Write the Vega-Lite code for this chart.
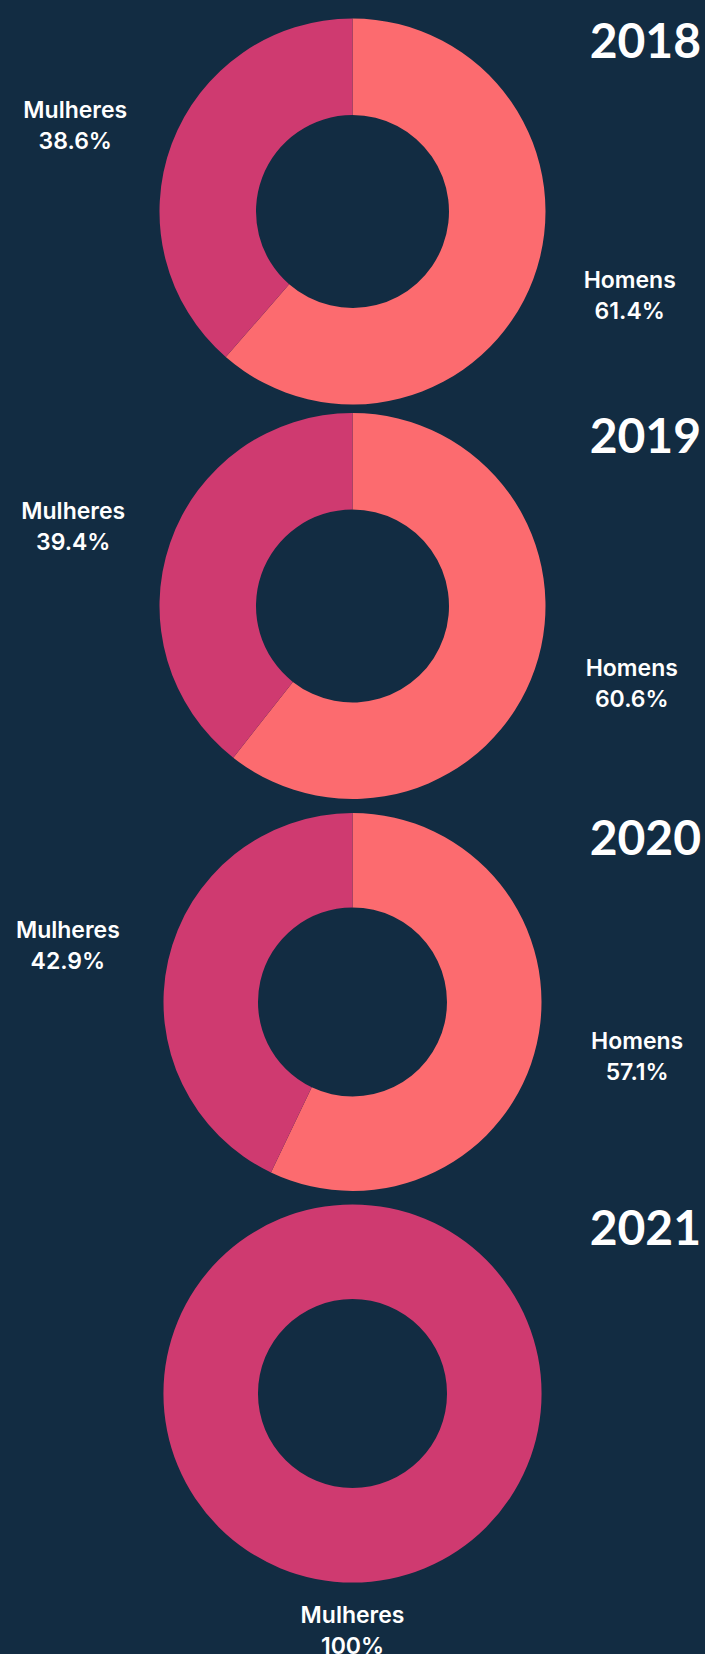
{
  "$schema": "https://vega.github.io/schema/vega-lite/v6.json",
  "background": "#122c42",
  "padding": {"top": 14, "left": 0, "right": 0, "bottom": 0},
  "config": {"view": {"stroke": null}, "concat": {"spacing": 0}, "font": "Lato"},
  "spacing": 0,
  "bounds": "flush",
  "data": {"values": [
    {"ano": 2018, "genero": "Homens", "pct": 0.614},
    {"ano": 2018, "genero": "Mulheres", "pct": 0.386},
    {"ano": 2019, "genero": "Homens", "pct": 0.606},
    {"ano": 2019, "genero": "Mulheres", "pct": 0.394},
    {"ano": 2020, "genero": "Homens", "pct": 0.571},
    {"ano": 2020, "genero": "Mulheres", "pct": 0.429},
    {"ano": 2021, "genero": "Mulheres", "pct": 1.0}
  ]},
  "vconcat": [
    {
      "width": 705, "height": 395,
      "title": {"text": "2018", "anchor": "end", "frame": "group", "orient": "top", "fontSize": 48, "font": "Lato", "fontWeight": "bold", "color": "white", "baseline": "alphabetic", "offset": 0, "dy": 92, "dx": -4},
      "transform": [{"filter": "datum.ano === 2018"}],
      "encoding": {"theta": {"field": "pct", "type": "quantitative", "stack": true}, "order": {"field": "genero", "sort": "ascending"}},
      "layer": [
        {"mark": {"type": "arc", "outerRadius": 193, "innerRadius": 96.5},
         "encoding": {"color": {"field": "genero", "type": "nominal", "scale": {"domain": ["Homens", "Mulheres"], "range": ["#fc6b6f", "#cf3a70"]}, "legend": null}}},
        {"mark": {"type": "text", "radius": 290, "thetaOffset": -0.06, "dy": -15.5, "font": "Inter", "fontSize": 23, "fontWeight": 600, "fill": "white"},
         "encoding": {"text": {"field": "genero"}, "detail": {"field": "genero"}}},
        {"mark": {"type": "text", "radius": 290, "thetaOffset": -0.06, "dy": 15.5, "font": "Inter", "fontSize": 23, "fontWeight": 600, "fill": "white"},
         "encoding": {"text": {"field": "pct", "format": ".1~%"}, "detail": {"field": "genero"}}}
      ]
    },
    {
      "width": 705, "height": 394,
      "title": {"text": "2019", "anchor": "end", "frame": "group", "orient": "top", "fontSize": 48, "font": "Lato", "fontWeight": "bold", "color": "white", "baseline": "alphabetic", "offset": 0, "dy": 92, "dx": -4},
      "transform": [{"filter": "datum.ano === 2019"}],
      "encoding": {"theta": {"field": "pct", "type": "quantitative", "stack": true}, "order": {"field": "genero", "sort": "ascending"}},
      "layer": [
        {"mark": {"type": "arc", "outerRadius": 193, "innerRadius": 96.5},
         "encoding": {"color": {"field": "genero", "type": "nominal", "scale": {"domain": ["Homens", "Mulheres"], "range": ["#fc6b6f", "#cf3a70"]}, "legend": null}}},
        {"mark": {"type": "text", "radius": 290, "thetaOffset": -0.06, "dy": -15.5, "font": "Inter", "fontSize": 23, "fontWeight": 600, "fill": "white"},
         "encoding": {"text": {"field": "genero"}, "detail": {"field": "genero"}}},
        {"mark": {"type": "text", "radius": 290, "thetaOffset": -0.06, "dy": 15.5, "font": "Inter", "fontSize": 23, "fontWeight": 600, "fill": "white"},
         "encoding": {"text": {"field": "pct", "format": ".1~%"}, "detail": {"field": "genero"}}}
      ]
    },
    {
      "width": 705, "height": 398,
      "title": {"text": "2020", "anchor": "end", "frame": "group", "orient": "top", "fontSize": 48, "font": "Lato", "fontWeight": "bold", "color": "white", "baseline": "alphabetic", "offset": 0, "dy": 100, "dx": -4},
      "transform": [{"filter": "datum.ano === 2020"}],
      "encoding": {"theta": {"field": "pct", "type": "quantitative", "stack": true}, "order": {"field": "genero", "sort": "ascending"}},
      "layer": [
        {"mark": {"type": "arc", "outerRadius": 189, "innerRadius": 94.5},
         "encoding": {"color": {"field": "genero", "type": "nominal", "scale": {"domain": ["Homens", "Mulheres"], "range": ["#fc6b6f", "#cf3a70"]}, "legend": null}}},
        {"mark": {"type": "text", "radius": 290, "thetaOffset": -0.03, "dy": -15.5, "font": "Inter", "fontSize": 23, "fontWeight": 600, "fill": "white"},
         "encoding": {"text": {"field": "genero"}, "detail": {"field": "genero"}}},
        {"mark": {"type": "text", "radius": 290, "thetaOffset": -0.03, "dy": 15.5, "font": "Inter", "fontSize": 23, "fontWeight": 600, "fill": "white"},
         "encoding": {"text": {"field": "pct", "format": ".1~%"}, "detail": {"field": "genero"}}}
      ]
    },
    {
      "width": 705, "height": 385,
      "title": {"text": "2021", "anchor": "end", "frame": "group", "orient": "top", "fontSize": 48, "font": "Lato", "fontWeight": "bold", "color": "white", "baseline": "alphabetic", "offset": 0, "dy": 92, "dx": -4},
      "transform": [{"filter": "datum.ano === 2021"}],
      "encoding": {"theta": {"field": "pct", "type": "quantitative", "stack": true}, "order": {"field": "genero", "sort": "ascending"}},
      "layer": [
        {"mark": {"type": "arc", "outerRadius": 189, "innerRadius": 94.5},
         "encoding": {"color": {"field": "genero", "type": "nominal", "scale": {"domain": ["Homens", "Mulheres"], "range": ["#fc6b6f", "#cf3a70"]}, "legend": null}}},
        {"mark": {"type": "text", "radius": 238, "dy": -15.5, "font": "Inter", "fontSize": 23, "fontWeight": 600, "fill": "white"},
         "encoding": {"text": {"field": "genero"}, "detail": {"field": "genero"}}},
        {"mark": {"type": "text", "radius": 238, "dy": 15.5, "font": "Inter", "fontSize": 23, "fontWeight": 600, "fill": "white"},
         "encoding": {"text": {"field": "pct", "format": ".1~%"}, "detail": {"field": "genero"}}}
      ]
    }
  ]
}
